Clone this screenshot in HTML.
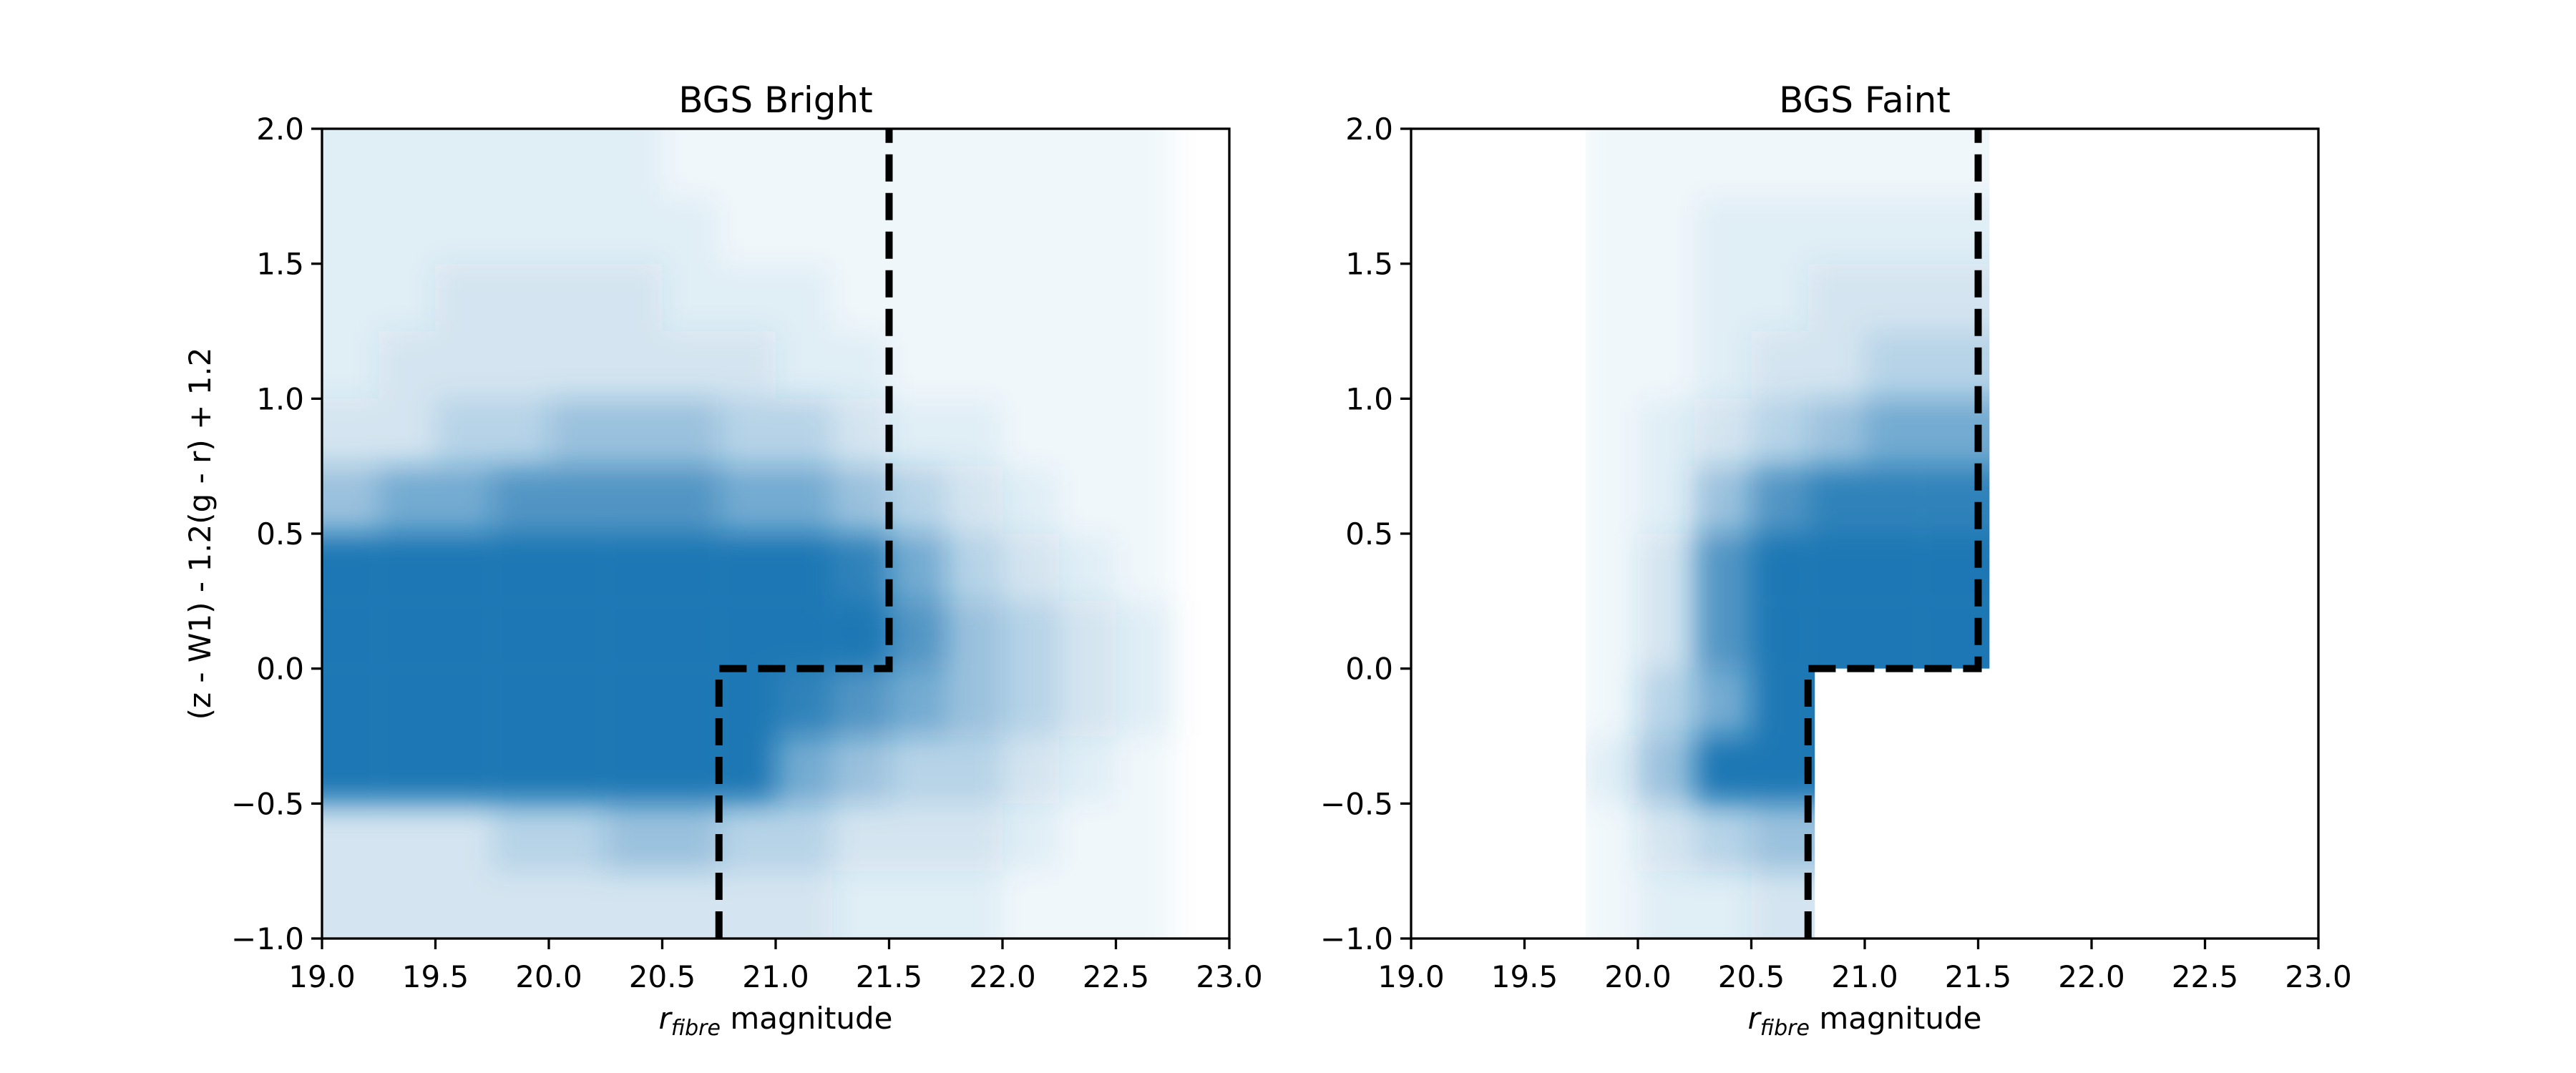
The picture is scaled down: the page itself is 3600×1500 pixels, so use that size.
<!DOCTYPE html>
<html><head><meta charset="utf-8"><style>
html,body{margin:0;padding:0;background:#fff;}
svg{display:block;font-family:"DejaVu Sans","Liberation Sans",sans-serif;}
</style></head><body>
<svg id="fig" width="3600" height="1500" viewBox="0 0 3600 1500" xmlns="http://www.w3.org/2000/svg">
<defs>
<filter id="blur" x="-20%" y="-20%" width="140%" height="140%"><feGaussianBlur stdDeviation="20"/></filter>
<clipPath id="clipL"><rect x="450" y="180" width="1268" height="1132"/></clipPath>
<clipPath id="clipR"><polygon id="clipRpoly" points="0,0"/></clipPath>
</defs>
<rect width="3600" height="1500" fill="#fff"/>
<g id="root"></g>
</svg>
<script>
// ---- data ----
const xTicks = [19.0,19.5,20.0,20.5,21.0,21.5,22.0,22.5,23.0];
const yTicks = [-1.0,-0.5,0.0,0.5,1.0,1.5,2.0];
const xTickLabels = ["19.0","19.5","20.0","20.5","21.0","21.5","22.0","22.5","23.0"];
const yTickLabels = ["\u22121.0","\u22120.5","0.0","0.5","1.0","1.5","2.0"];
const gridX0 = 19.0, gridY0 = 2.0, gridStep = 0.25;
// density levels (0-9), rows from y=2.0 downward, columns from x=19.0
const brightDensity = [
 [2,2,2,2,2,2,1,1,1,1,1,1,1,1,1,0],
 [2,2,2,2,2,2,2,1,1,1,1,1,1,1,1,0],
 [2,2,3,3,3,3,2,2,2,1,1,1,1,1,1,0],
 [2,3,3,3,3,3,3,3,2,2,1,1,1,1,1,0],
 [3,3,4,4,5,5,5,4,4,3,2,2,1,1,1,0],
 [5,6,6,7,7,7,7,6,6,5,4,3,2,1,1,0],
 [9,9,9,9,9,9,9,9,9,8,6,4,3,2,1,0],
 [9,9,9,9,9,9,9,9,9,9,7,5,4,3,2,0],
 [9,9,9,9,9,9,9,9,8,7,6,5,4,3,2,0],
 [9,9,9,9,9,9,9,9,6,5,4,4,3,2,1,0],
 [3,3,3,4,4,5,5,4,4,3,3,3,2,1,1,0],
 [3,3,3,3,3,3,3,3,3,2,2,2,1,1,1,0]
];
const faintDensity = [
 [0,0,0,1,1,1,1,1,1,1,0,0,0,0,0,0],
 [0,0,0,1,1,2,2,2,2,2,0,0,0,0,0,0],
 [0,0,0,1,1,2,2,3,3,3,0,0,0,0,0,0],
 [0,0,0,1,1,2,3,3,4,4,0,0,0,0,0,0],
 [0,0,0,1,2,3,4,5,6,6,6,0,0,0,0,0],
 [0,0,0,1,2,5,7,8,8,8,8,0,0,0,0,0],
 [0,0,0,1,3,7,9,9,9,9,9,0,0,0,0,0],
 [0,0,0,1,3,7,9,9,9,9,9,0,0,0,0,0],
 [0,0,0,1,4,6,9,9,0,0,0,0,0,0,0,0],
 [0,0,0,2,5,9,9,9,0,0,0,0,0,0,0,0],
 [0,0,0,1,3,4,5,5,0,0,0,0,0,0,0,0],
 [0,0,0,1,2,2,3,3,0,0,0,0,0,0,0,0]
];
const levelOpacity = [0,0.06,0.12,0.2,0.32,0.46,0.62,0.78,0.92,1];
const cutX = [20.75,20.75,21.5,21.5];
const cutY = [-1.0,0.0,0.0,2.0];
const faintEdgeLow = 20.78, faintEdgeHigh = 21.55, faintEdgeLeft = 19.77;

// ---- layout ----
const NS="http://www.w3.org/2000/svg";
const root=document.getElementById('root');
function mk(tag,attrs,parent){const e=document.createElementNS(NS,tag);for(const k in attrs)e.setAttribute(k,attrs[k]);(parent||root).appendChild(e);return e;}
const yTop=180,yBot=1312,xmin=19,xmax=23,ymin=-1,ymax=2;
const panels=[{x0:450,x1:1718,title:"BGS Bright",dens:brightDensity,clip:"clipL",name:"bgs-bright"},
              {x0:1972,x1:3240,title:"BGS Faint",dens:faintDensity,clip:"clipR",name:"bgs-faint"}];
panels.forEach((p,pi)=>{
  const sx=v=>p.x0+(v-xmin)/(xmax-xmin)*(p.x1-p.x0);
  const sy=v=>yBot-(v-ymin)/(ymax-ymin)*(yBot-yTop);
  const g=mk('g',{});
  
  
  if(pi===1){
    const pts=[[faintEdgeLeft,ymin],[faintEdgeLow,ymin],[faintEdgeLow,0],[faintEdgeHigh,0],[faintEdgeHigh,ymax],[faintEdgeLeft,ymax]];
    document.getElementById('clipRpoly').setAttribute('points',pts.map(q=>sx(q[0])+','+sy(q[1])).join(' '));
  }
  const cg=mk('g',{'clip-path':'url(#'+p.clip+')'},g);
  
  
  const bg=mk('g',{filter:'url(#blur)'},cg);
  const rows=p.dens.length, cols=p.dens[0].length;
  for(let r=0;r<rows;r++)for(let c=0;c<cols;c++){
    const lv=p.dens[r][c]; if(!lv)continue;
    let xa=gridX0+c*gridStep, xb=xa+gridStep, ya=gridY0-r*gridStep, yb=ya-gridStep;
    if(c===0)xa-=0.5; if(r===0)ya+=0.5; if(r===rows-1)yb-=0.5;
    if(pi===1){
      if(c+1<cols&&p.dens[r][c+1]===0)xb+=0.3;
      if(r+1<rows&&p.dens[r+1][c]===0&&c>=7)yb-=0.2;
    }
    const rc=mk('rect',{x:sx(xa),y:sy(ya),width:sx(xb)-sx(xa),height:sy(yb)-sy(ya),fill:'#1f77b4','fill-opacity':levelOpacity[lv]},bg);
    
    
  }
  const d=cutX.map((v,i)=>(i?'L':'M')+sx(v)+' '+sy(cutY[i])).join(' ');
  const cl=mk('path',{d:d,fill:'none',stroke:'#000','stroke-width':10,'stroke-dasharray':'38 16'},g);
  
  
  const fr=mk('rect',{x:p.x0,y:yTop,width:p.x1-p.x0,height:yBot-yTop,fill:'none',stroke:'#000','stroke-width':3.3},g);
  
  
  xTicks.forEach((v,i)=>{
    const t=mk('line',{x1:sx(v),x2:sx(v),y1:yBot,y2:yBot+15,stroke:'#000','stroke-width':3.3},g);
    
    
    const tl=mk('text',{x:sx(v),y:yBot+68,'font-size':42,'text-anchor':'middle',fill:'#000'},g);
    tl.textContent=xTickLabels[i];
    
    
  });
  yTicks.forEach((v,i)=>{
    const t=mk('line',{x1:p.x0-15,x2:p.x0,y1:sy(v),y2:sy(v),stroke:'#000','stroke-width':3.3},g);
    
    
    const tl=mk('text',{x:p.x0-25,y:sy(v)+15,'font-size':42,'text-anchor':'end',fill:'#000'},g);
    tl.textContent=yTickLabels[i];
    
    
  });
  const tt=mk('text',{x:(p.x0+p.x1)/2,y:157,'font-size':50,'text-anchor':'middle',fill:'#000'},g);
  tt.textContent=p.title;
  
  
  const xl=mk('text',{x:(p.x0+p.x1)/2,y:1438,'font-size':42,'text-anchor':'middle',fill:'#000'},g);
  xl.innerHTML='<tspan font-style="italic">r</tspan><tspan font-style="italic" font-size="30" dy="9">fibre</tspan><tspan dy="-9"> magnitude</tspan>';
  
  
});
const yl=mk('text',{x:0,y:0,'font-size':42,'text-anchor':'middle',fill:'#000',transform:'translate(294,746) rotate(-90)'});
yl.textContent='(z - W1) - 1.2(g - r) + 1.2';


</script>
</body></html>
